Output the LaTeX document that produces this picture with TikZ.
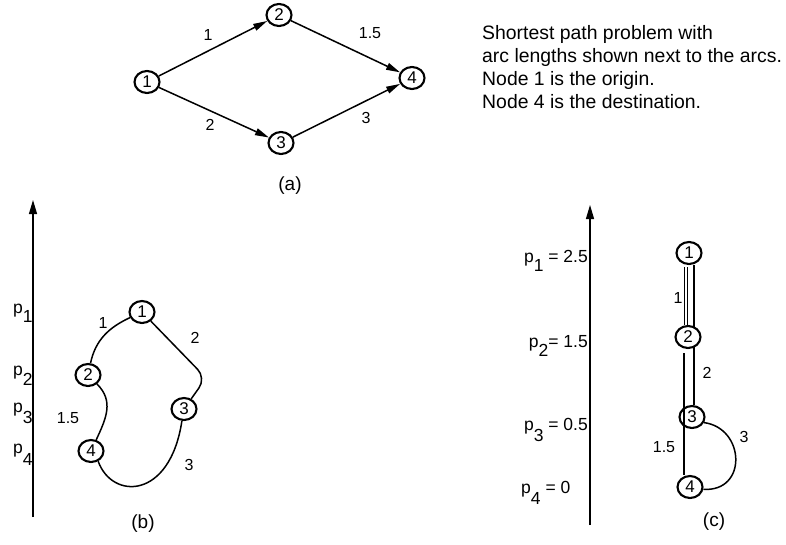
\documentclass[tikz,border=0pt]{standalone}
\usepackage{fontspec}
\setmainfont{Liberation Sans}
\usetikzlibrary{arrows.meta,shapes.geometric}
\pgfdeclarelayer{background}
\pgfsetlayers{background,main}
\newcommand{\lowsub}[2][8pt]{\raisebox{-#1}{#2}}
\begin{document}
\begin{tikzpicture}[x=1pt,y=-1pt,
  vert/.style={ellipse,draw,line width=2.1pt,fill=white,minimum width=25pt,
    minimum height=22pt,inner sep=0pt,font=\fontsize{17}{17}\selectfont},
  lab/.style={font=\fontsize{16}{19}\selectfont,inner sep=0pt},
  plab/.style={font=\fontsize{17.5}{20}\selectfont,inner sep=0pt},
  caption/.style={font=\fontsize{19}{22}\selectfont,inner sep=0pt},
  arc/.style={line width=1.5pt},
  dir/.style={arc,-{Triangle[length=14pt,width=7pt]}},
  axis/.style={line width=1.2pt,-{Triangle[length=14pt,width=8pt]}},
]
\useasboundingbox (0,0) rectangle (786,544);

% ---------- (a) the network ----------
\node[vert] (a1) at (147,82) {1};
\node[vert] (a2) at (279,15) {2};
\node[vert] (a3) at (281,143) {3};
\node[vert] (a4) at (412,78) {4};
\draw[dir] (a1) -- (a2);
\draw[dir] (a1) -- (a3);
\draw[dir] (a2) -- (a4);
\draw[dir] (a3) -- (a4);
\node[lab] (la12) at (208,35) {1};
\node[lab] (la24) at (370,33) {1.5};
\node[lab] (la13) at (210,125) {2};
\node[lab] (la34) at (366,118) {3};
\node[caption] (capa) at (290,186) {(a)};

\node[anchor=north west,align=left,inner sep=0pt,
  font=\fontsize{19.4}{23.2}\selectfont] (note) at (482,25)
  {Shortest path problem with\\arc lengths shown next to the arcs.\\
   Node 1 is the origin.\\Node 4 is the destination.};

% ---------- (b) the strings hanging at prices p_i ----------
\coordinate (bax0) at (33,517);
\coordinate (bax1) at (33,200);
\draw[axis] (bax0) -- (bax1);
\node[plab,anchor=base west] (pb1) at (13,313) {p\lowsub[9pt]{1}};
\node[plab,anchor=base west] (pb2) at (13,375) {p\lowsub[10pt]{2}};
\node[plab,anchor=base west] (pb3) at (13,412) {p\lowsub[11pt]{3}};
\node[plab,anchor=base west] (pb4) at (13,453) {p\lowsub[12pt]{4}};

\node[vert] (b1) at (142,312) {1};
\node[vert] (b2) at (88,375) {2};
\node[vert] (b3) at (184,409) {3};
\node[vert] (b4) at (91,451) {4};
\coordinate (b13) at (206,378);
\begin{pgfonlayer}{background}
\draw[arc] (b1) to[out=205,in=78] (b2);
\draw[arc,rounded corners=12pt] (b1) -- (b13) -- (b3);
\draw[arc] (b2) to[out=-45,in=65,looseness=1.1] (b4);
\draw[arc] (b4.-55) .. controls (112,500) and (170,500) .. (b3.-100);
\end{pgfonlayer}
\node[lab] (lb12) at (103,323) {1};
\node[lab] (lb13) at (195,338) {2};
\node[lab] (lb24) at (68,418) {1.5};
\node[lab] (lb34) at (189,465) {3};
\node[caption] (capb) at (143,524) {(b)};

% ---------- (c) the strings at the shortest distances ----------
\coordinate (cax0) at (590,525);
\coordinate (cax1) at (590,205);
\draw[axis] (cax0) -- (cax1);
\node[plab,anchor=base east] (pc1) at (588,262) {p\lowsub[9pt]{1} = 2.5};
\node[plab,anchor=base east] (pc2) at (588,347) {p\lowsub[9pt]{2}= 1.5};
\node[plab,anchor=base east] (pc3) at (588,430) {p\lowsub[11pt]{3} = 0.5};
\node[plab,anchor=base west] (pc4) at (521,493) {p\lowsub[11pt]{4} = 0};

\node[vert] (c1) at (689,253) {1};
\node[vert] (c2) at (688,337) {2};
\node[vert] (c3) at (692,417) {3};
\node[vert] (c4) at (690,487) {4};
\begin{pgfonlayer}{background}
\draw[arc] ([xshift=5pt]c1.south) -- ([xshift=2pt]c3.north);
\draw[arc] (c3.-25) .. controls (745,428) and (748,492) .. (c4.-10);
\end{pgfonlayer}
\draw[double,double distance=1.8pt,line width=0.8pt]
  ([xshift=-3pt,yshift=-2pt]c1.south) -- ([xshift=-2pt]c2.north);
\draw[line width=2pt] ([xshift=-4pt,yshift=-4pt]c2.south) -- ([xshift=-6pt]c4.north);
\node[lab] (lc12) at (678,298) {1};
\node[lab] (lc13) at (707,373) {2};
\node[lab] (lc24) at (664,447) {1.5};
\node[lab] (lc34) at (744,437) {3};
\node[caption] (capc) at (714,522) {(c)};
\end{tikzpicture}
\end{document}
